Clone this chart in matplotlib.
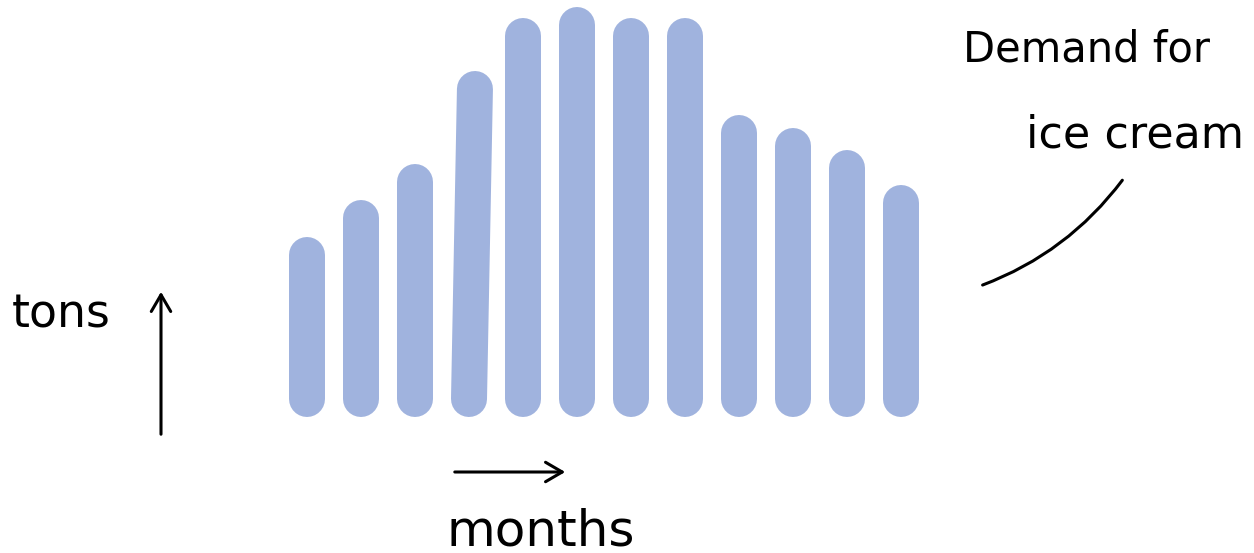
import matplotlib.pyplot as plt
from matplotlib.patches import FancyArrowPatch

# demand for ice cream per month (arbitrary units)
months = list(range(1, 13))
demand = [180, 217, 253, 346, 399, 410, 399, 399, 302, 289, 267, 232]
# the 4th bar was drawn a bit crooked
lean = [0, 0, 0, 0.11, 0, 0, 0, 0, 0, 0, 0, 0]

bar_color = "#a0b3de"
bar_px = 36  # bar thickness in pixels

fig = plt.figure(figsize=(12.54, 5.53), dpi=100)
ax = fig.add_axes([0, 0, 1, 1])
# 54 px per month, 1 unit per pixel on y
ax.set_xlim(1 - 307 / 54, 1 + (1254 - 307) / 54)
ax.set_ylim(-136, 417)
ax.axis("off")

cap = bar_px / 2
lw = bar_px * 72 / 100
for m, d, l in zip(months, demand, lean):
    ax.plot([m, m + l], [cap, d - cap], color=bar_color, lw=lw,
            solid_capstyle="round", zorder=2)

font = "DejaVu Sans"
fig.text(12 / 1254, 1 - 328 / 553, "tons", fontsize=33, family=font,
         ha="left", va="baseline")
fig.text(447 / 1254, 1 - 545 / 553, "months", fontsize=36, family=font,
         ha="left", va="baseline")
fig.text(963 / 1254, 1 - 62 / 553, "Demand for", fontsize=30, family=font,
         ha="left", va="baseline")
fig.text(1026 / 1254, 1 - 147 / 553, "ice cream", fontsize=32, family=font,
         ha="left", va="baseline")

# axis arrows
head = "->,head_length=12,head_width=7"
up = FancyArrowPatch((161 / 1254, 1 - 437 / 553), (161 / 1254, 1 - 289 / 553),
                     transform=fig.transFigure, arrowstyle=head,
                     color="black", lw=2.2)
right = FancyArrowPatch((452 / 1254, 1 - 472 / 553), (568 / 1254, 1 - 472 / 553),
                        transform=fig.transFigure, arrowstyle=head,
                        color="black", lw=2.2)
# pointer from the label to the bars
pointer = FancyArrowPatch((1124 / 1254, 1 - 178 / 553), (980 / 1254, 1 - 286 / 553),
                          transform=fig.transFigure, arrowstyle="-",
                          connectionstyle="arc3,rad=-0.15", color="black", lw=2.2)
for p in (up, right, pointer):
    fig.patches.append(p)

fig.savefig("out.png", dpi=100, facecolor="white")
